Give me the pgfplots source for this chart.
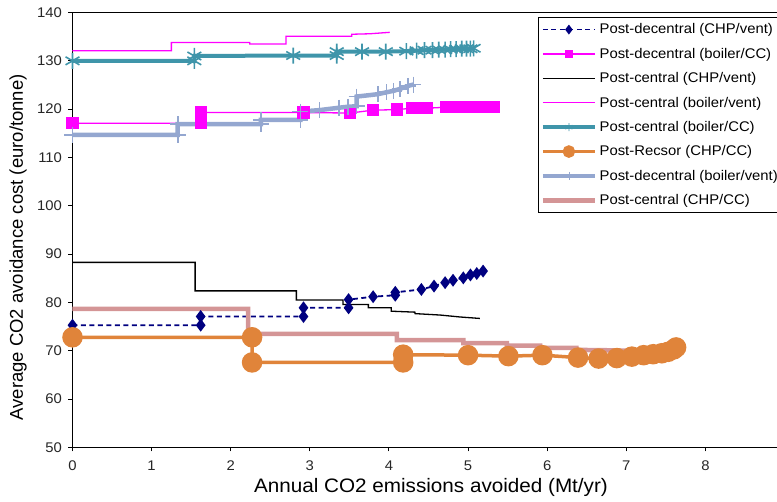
\documentclass[border=0pt]{standalone}
\usepackage{fontspec}
\setmainfont{Liberation Sans}[FakeStretch=1.06]
\newfontfamily\ylabfont{Liberation Sans}
\usepackage{pgfplots}
\pgfplotsset{compat=1.18}
\definecolor{navyc}{HTML}{000080}
\definecolor{magc}{HTML}{FF00FF}
\definecolor{tealc}{HTML}{3F95AA}
\definecolor{orangec}{HTML}{E0843A}
\definecolor{bluegc}{HTML}{94A7D0}
\definecolor{rosyc}{HTML}{D49596}
\begin{document}
\begin{tikzpicture}
\path[use as bounding box] (-72.5pt,-54.5pt) rectangle (704.5pt,447.5pt);
\clip (-72.5pt,-54.5pt) rectangle (704.5pt,447.5pt);
\begin{axis}[
  at={(0pt,0pt)}, anchor=south west,
  scale only axis, width=712pt, height=435pt,
  xmin=0, xmax=9, ymin=50, ymax=140,
  xtick={0,1,...,9}, ytick={50,60,...,140},
  xtick pos=left, ytick pos=left,
  tick align=outside, major tick length=4pt,
  axis line style={line width=1.6pt},
  tick style={line width=1pt, black},
  ticklabel style={font=\fontsize{14}{16}\selectfont, text=black!85},
  xticklabel style={yshift=-6pt},
  yticklabel style={xshift=-3pt},
  /pgf/number format/assume math mode=true,
  xlabel={Annual CO2 emissions avoided (Mt/yr)},
  ylabel={Average CO2 avoidance cost (euro/tonne)},
  xlabel style={font=\fontsize{19.5}{22}\selectfont, at={(axis description cs:0.5035,-0.093)}, anchor=center},
  ylabel style={font=\ylabfont\fontsize{18.5}{22}\selectfont, at={(axis description cs:-0.0765,0.46)}, anchor=center},
  legend cell align=left,
  legend style={at={(rel axis cs:0.654,0.99)}, anchor=north west, draw=black, line width=1pt,
    font=\fontsize{14}{16}\selectfont, row sep=0pt, inner xsep=2pt, inner ysep=0pt,
    nodes={inner xsep=2.5pt, inner ysep=0pt, minimum height=24.4pt}},
  legend image code/.code={\draw[mark repeat=2,mark phase=2,#1] plot coordinates {(0pt,0pt) (26pt,0pt) (52pt,0pt)};},
]
% Post-decentral (CHP/vent)
\addplot[navyc, dash pattern=on 5pt off 3.5pt, line width=1.8pt, mark=diamond*, mark size=5pt, mark options={solid},
  legend image post style={mark size=3.5pt}] coordinates {
(0,75.3)(1.62,75.3)(1.62,77.1)(2.92,77.1)(2.92,78.9)(3.49,78.9)(3.49,80.6)(3.80,81.2)(4.08,81.5)(4.08,82.1)(4.41,82.7)(4.57,83.4)(4.71,84.1)(4.81,84.6)(4.94,85.1)(5.03,85.7)(5.11,86.0)(5.19,86.5)};
\addlegendentry{Post-decentral (CHP/vent)}
% Post-decentral (boiler/CC)
\addplot[magc, line width=1.3pt, mark=square*, mark size=5.5pt,
  legend image post style={mark size=3.5pt}] coordinates {
(0,117.1)(1.62,117.1)(1.62,119.3)(2.92,119.3)(3.51,119.2)(3.80,119.8)(4.10,119.9)(4.29,120.2)(4.40,120.2)(4.48,120.2)(4.72,120.4)(4.85,120.4)(4.97,120.4)(5.08,120.5)(5.18,120.5)(5.27,120.5)(5.32,120.5)};
\addlegendentry{Post-decentral (boiler/CC)}
% Post-central (CHP/vent)
\addplot[black, line width=1.3pt] coordinates {
(0,88.3)(1.55,88.3)(1.55,82.4)(2.83,82.4)(2.83,80.5)(3.42,80.5)(3.42,79.6)(3.74,79.6)(3.74,78.9)(4.03,78.9)(4.03,78.2)(4.33,78.0)(4.33,77.7)(4.65,77.4)(4.90,77.0)(5.15,76.7)};
\addlegendentry{Post-central (CHP/vent)}
% Post-central (boiler/vent)
\addplot[magc, line width=1.3pt] coordinates {
(0,132.1)(1.25,132.1)(1.25,133.8)(2.24,133.8)(2.24,133.5)(2.70,133.5)(2.70,135.1)(3.53,135.1)(3.53,135.5)(3.76,135.6)(4.01,135.9)};
\addlegendentry{Post-central (boiler/vent)}
% Post-central (boiler/CC)
\addplot[tealc, line width=4pt, mark=asterisk, mark size=8pt, mark options={line width=1.6pt},
  legend image post style={mark size=4pt, mark options={line width=0.8pt}}] coordinates {
(0,130.0)(1.54,130.0)(1.54,131.0)(2.79,131.1)(3.34,131.1)(3.34,131.9)(3.66,131.9)(3.96,131.9)(4.22,132.0)(4.35,132.1)(4.45,132.2)(4.55,132.2)(4.63,132.3)(4.71,132.3)(4.78,132.4)(4.85,132.4)(4.92,132.5)(4.98,132.5)(5.03,132.5)(5.07,132.6)};
\addlegendentry{Post-central (boiler/CC)}
% Post-Recsor (CHP/CC)
\addplot[orangec, line width=3.5pt, mark=*, mark size=8.5pt,
  legend image post style={mark size=4.5pt}] coordinates {
(0,72.8)(2.27,72.8)(2.27,67.6)(4.18,67.6)(4.18,69.2)(5.00,69.1)(5.51,68.9)(5.94,69.1)(6.39,68.6)(6.65,68.4)(6.88,68.5)(7.07,68.8)(7.22,69.1)(7.34,69.3)(7.45,69.5)(7.53,69.8)(7.60,70.3)(7.63,70.7)};
\addlegendentry{Post-Recsor (CHP/CC)}
% Post-decentral (boiler/vent)
\addplot[bluegc, line width=4.5pt, mark=+, mark size=8pt, mark options={line width=1.6pt},
  legend image post style={mark size=4pt, mark options={line width=0.8pt}}] coordinates {
(0,114.7)(1.33,114.7)(1.33,116.9)(2.38,116.9)(2.38,117.8)(2.88,117.8)(2.88,119.5)(3.12,119.8)(3.37,120.3)(3.48,120.5)(3.59,120.6)(3.59,122.6)(3.86,123.1)(3.97,123.5)(4.06,123.8)(4.14,124.2)(4.24,124.8)(4.31,125.1)};
\addlegendentry{Post-decentral (boiler/vent)}
% Post-central (CHP/CC)
\addplot[rosyc, line width=4.5pt] coordinates {
(0,78.7)(2.22,78.7)(2.22,73.5)(4.10,73.5)(4.10,72.2)(4.94,72.2)(4.94,71.6)(5.49,71.6)(5.49,71.1)(5.91,71.1)(5.91,70.6)(6.37,70.6)(6.37,70.2)(6.85,70.1)(7.30,69.9)(7.60,69.8)};
\addlegendentry{Post-central (CHP/CC)}
\end{axis}
\end{tikzpicture}
\end{document}
